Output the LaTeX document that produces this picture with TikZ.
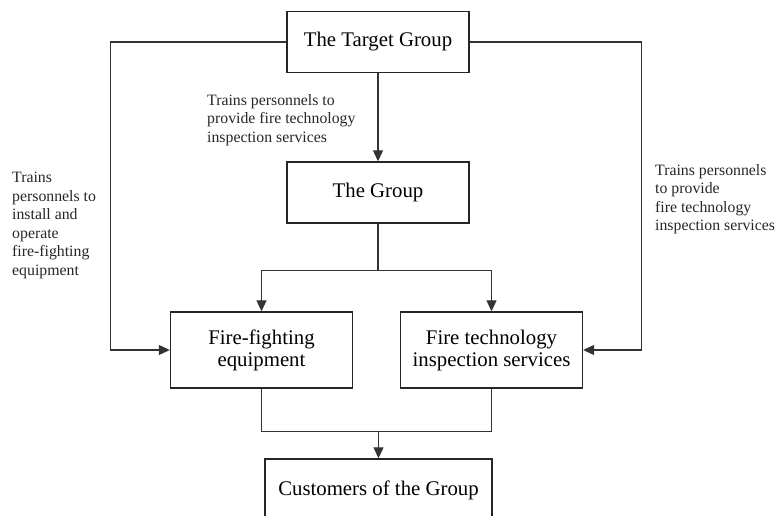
\documentclass[tikz,border=0pt]{standalone}
\usepackage{fontspec}
\setmainfont{Liberation Serif}
\usetikzlibrary{arrows.meta}
\newcommand\boxfont{\fontsize{20.8}{22}\selectfont}
\newcommand\labfont{\fontsize{15.8}{18.5}\selectfont}
\begin{document}
\begin{tikzpicture}[x=1pt,y=-1pt,
  box/.style={draw=black!85, line width=1.4pt, minimum width=182pt, minimum height=61pt, align=center, font=\boxfont, inner sep=0pt},
  lab/.style={anchor=north west, align=left, font=\labfont, inner sep=0pt, text=black!85},
  conn/.style={draw=black!80, line width=1.1pt},
  arr/.style={conn, -{Triangle[length=11pt,width=10pt]}}]
\useasboundingbox (0,0) rectangle (777,515);
\node[box] (tg) at (378,42) {The Target Group};
\node[box] (g) at (378,192.5) {The Group};
\node[box, minimum height=76pt] (ff) at (261.5,350) {Fire-fighting\\equipment};
\node[box, minimum height=76pt] (fts) at (491.5,350) {Fire technology\\inspection services};
\node[box, minimum width=227pt, minimum height=62pt] (cust) at (378.5,490) {Customers of the Group};
\node[lab] (lm) at (207,94) {Trains personnels to\\provide fire technology\\inspection services};
\node[lab] (ll) at (12,172) {Trains\\personnels to\\install and\\operate\\fire-fighting\\equipment};
\node[lab] (lr) at (655,164) {Trains personnels\\to provide\\fire technology\\inspection services};
\draw[arr] (tg.south) -- (g.north);
\draw[arr] (tg.west) -- ++(-176,0) |- (ff.west);
\draw[arr] (tg.east) -- ++(172,0) |- (fts.east);
\draw[conn] (g.south) -- ++(0,47) coordinate (sp);
\draw[arr] (sp) -| (ff.north);
\draw[arr] (sp) -| (fts.north);
\draw[conn] (ff.south) -- ++(0,43) coordinate (j1) -| (fts.south);
\coordinate (j) at (cust.north |- j1);
\draw[arr] (j) -- (cust.north);
\end{tikzpicture}
\end{document}
